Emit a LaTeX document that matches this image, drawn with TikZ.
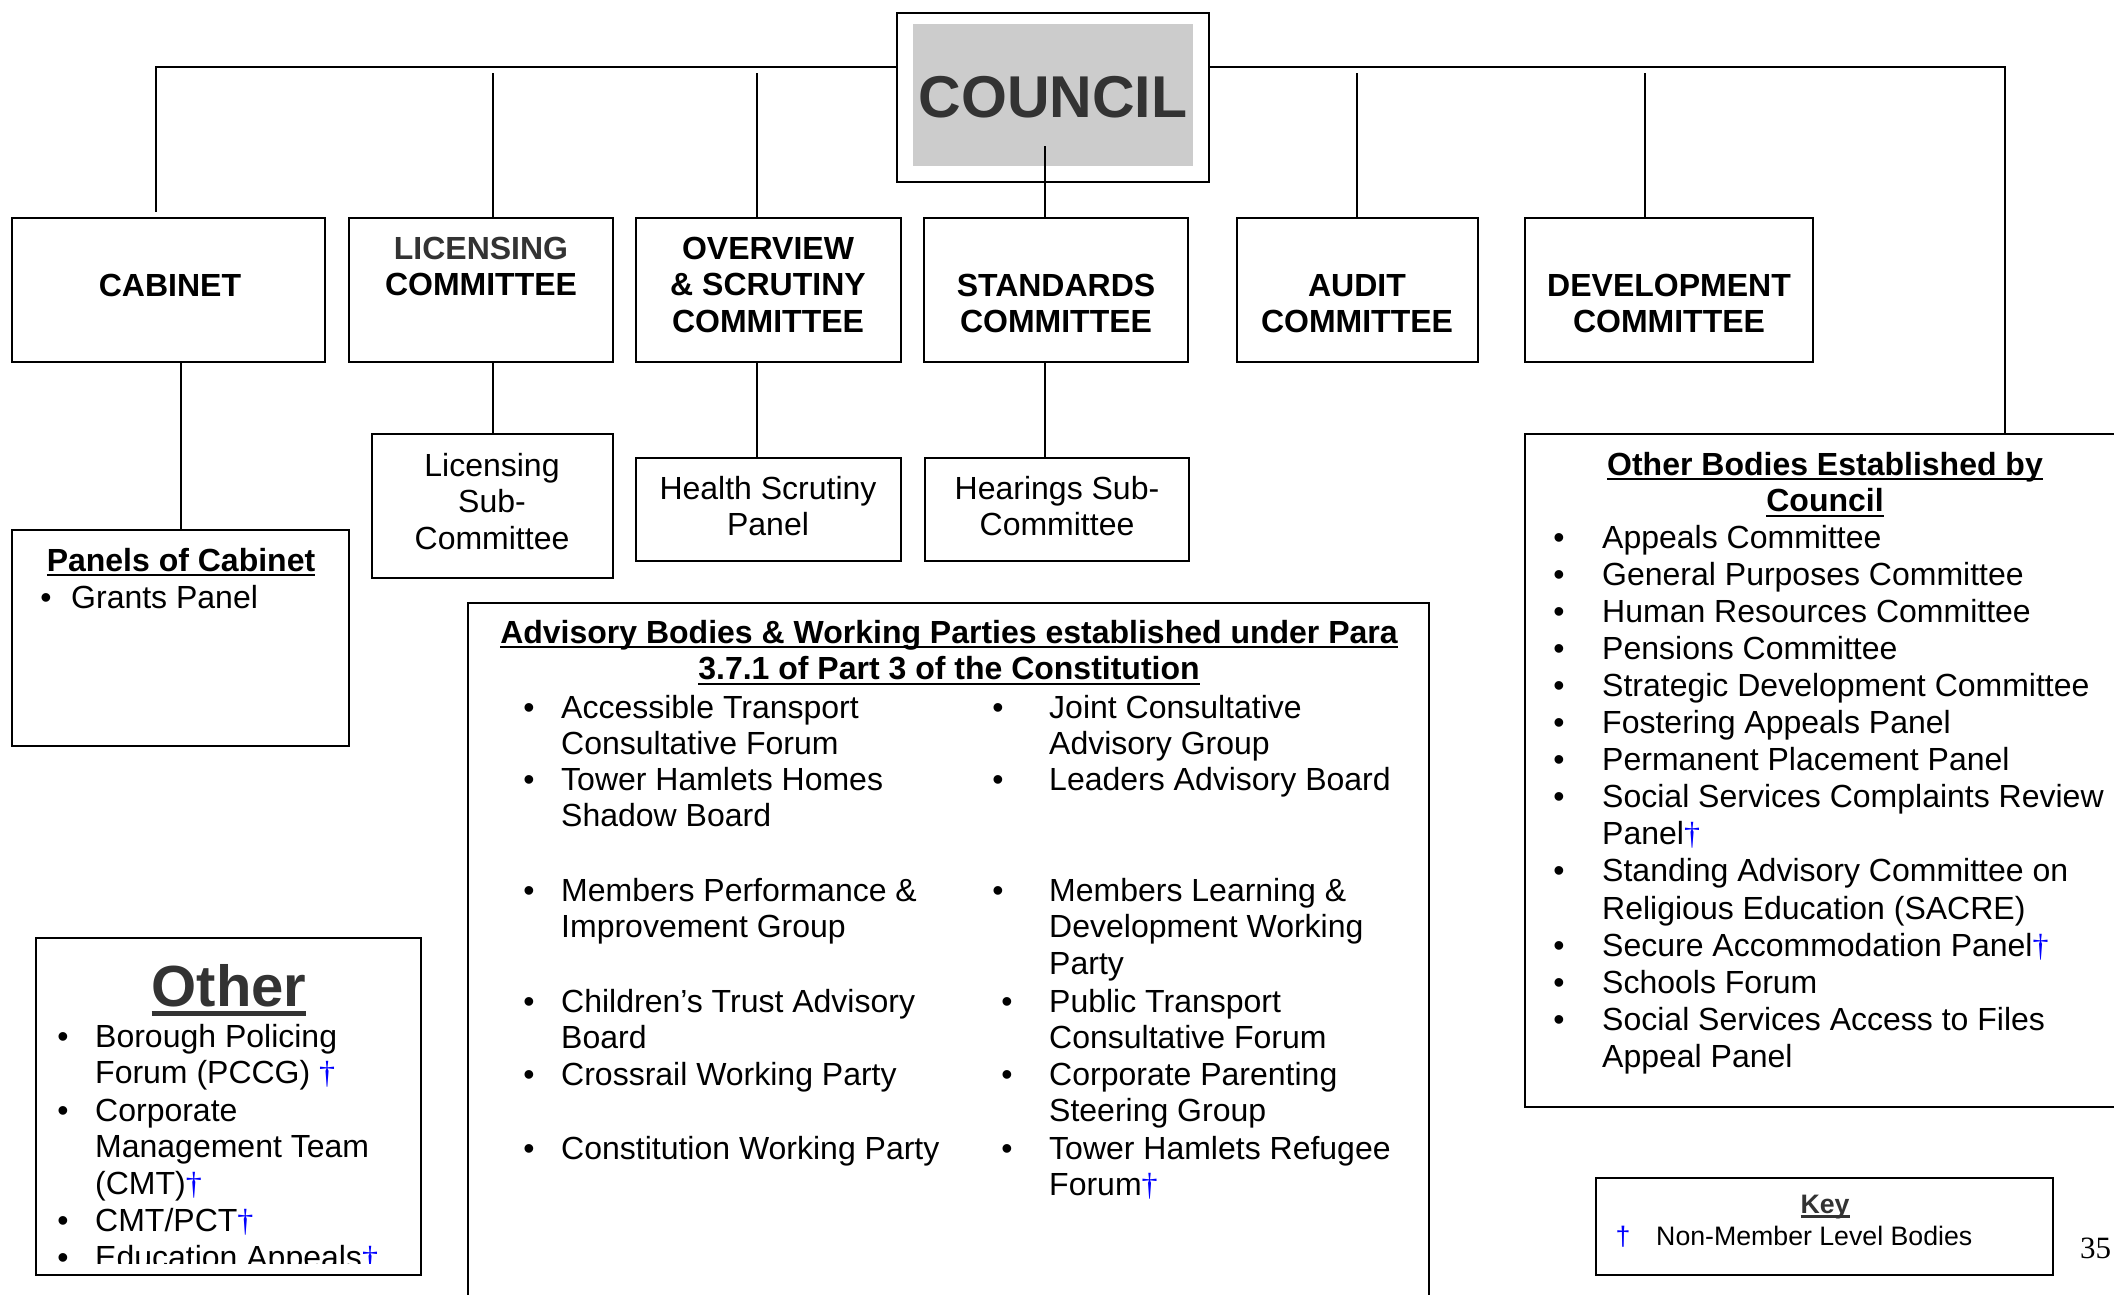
\documentclass[tikz,border=0pt]{standalone}
\usepackage{fontspec}
\setmainfont{Liberation Sans}
\newfontfamily\seriffam{Liberation Serif}
\newsavebox\ulbox
\newcommand\myul[1]{\sbox\ulbox{#1}\rlap{\rule[-0.17em]{\wd\ulbox}{0.085em}}\usebox\ulbox}
\newcommand\ml[2][l]{\begin{tabular}[t]{@{}#1@{}}#2\end{tabular}}
\newcommand\dg{\textcolor{blue}{\seriffam †}}
\definecolor{dkgray}{HTML}{333333}
\definecolor{councilgray}{HTML}{CCCCCC}
\newcommand\mkbox[6][]{%
  \pgfmathsetmacro\bw{#5-#3}\pgfmathsetmacro\bh{#6-#4}%
  \node[box,#1,minimum width=\bw pt,minimum height=\bh pt] (#2) at ({(#3+#5)/2},{(#4+#6)/2}) {};}
\begin{document}
\begin{tikzpicture}[x=1pt,y=-1pt,
  box/.style={draw=black,line width=2pt,inner sep=0pt,fill=white},
  conn/.style={line width=1.4pt},
  hconn/.style={line width=1.9pt},
  t/.style={inner sep=0pt,font=\fontsize{32}{36.8}\selectfont},
  tb/.style={inner sep=0pt,font=\fontsize{32}{36.8}\selectfont\bfseries},
  lt/.style={t,anchor=base west},
  ct/.style={t,anchor=base},
  bul/.style={t,anchor=base},
  big/.style={inner sep=0pt,anchor=base,font=\fontsize{58}{66}\selectfont\bfseries,text=dkgray},
  small/.style={inner sep=0pt,font=\fontsize{26.7}{30.7}\selectfont},
]
\useasboundingbox (0,0) rectangle (2114,1294);
\clip (0,0) rectangle (2114,1294);

% ---------- boxes ----------
\mkbox{council}{897}{13}{1209}{182}
\mkbox[draw=none,fill=councilgray]{councilin}{913}{24}{1193}{166}
\mkbox{cabinet}{12}{218}{325}{362}
\mkbox{licensing}{349}{218}{613}{362}
\mkbox{overview}{636}{218}{901}{362}
\mkbox{standards}{924}{218}{1188}{362}
\mkbox{audit}{1237}{218}{1478}{362}
\mkbox{development}{1525}{218}{1813}{362}
\mkbox{panels}{12}{530}{349}{746}
\mkbox{licsub}{372}{434}{613}{578}
\mkbox{health}{636}{458}{901}{561}
\mkbox{hearings}{925}{458}{1189}{561}
\mkbox{advisory}{468}{603}{1429}{1330}
\mkbox{otherbodies}{1525}{434}{2140}{1107}
\mkbox{other}{36}{938}{421}{1275}
\mkbox{key}{1596}{1178}{2053}{1275}

% ---------- connectors ----------
\coordinate (hlL) at (156,67);
\coordinate (hlR) at (2005,67);
\coordinate (cabend) at (156,212);
\draw[hconn] (council.west |- hlL) -- (hlL) -- (cabend);
\draw[hconn] (council.east |- hlR) -- (hlR) -- (hlR |- otherbodies.north);
\coordinate (licT) at (493,73);
\coordinate (ovT) at (757,73);
\coordinate (stT) at (1045,146);
\coordinate (auT) at (1357,73);
\coordinate (deT) at (1645,73);
\draw[conn] (licT) -- (licT |- licensing.north);
\draw[conn] (ovT) -- (ovT |- overview.north);
\draw[conn] (stT) -- (stT |- standards.north);
\draw[conn] (auT) -- (auT |- audit.north);
\draw[conn] (deT) -- (deT |- development.north);
\coordinate (cabx) at (181,0);
\coordinate (licx) at (493,0);
\coordinate (ovx) at (757,0);
\coordinate (stx) at (1045,0);
\draw[conn] (cabinet.south -| cabx) -- (panels.north -| cabx);
\draw[conn] (licensing.south -| licx) -- (licsub.north -| licx);
\draw[conn] (overview.south -| ovx) -- (health.north -| ovx);
\draw[conn] (standards.south -| stx) -- (hearings.north -| stx);

% ---------- texts ----------
\node[big,font=\fontsize{59}{66}\selectfont\bfseries] (council-t) at (1053,117) {COUNCIL};
\node[tb,anchor=base] (cabinet-t) at (170,296) {CABINET};
\node[tb,anchor=base] (licensing-t) at (481,259) {\ml[c]{\textcolor{dkgray}{LICENSING}\\COMMITTEE}};
\node[tb,anchor=base] (overview-t) at (768,259) {\ml[c]{OVERVIEW\\\& SCRUTINY\\COMMITTEE}};
\node[tb,anchor=base] (standards-t) at (1056,296) {\ml[c]{STANDARDS\\COMMITTEE}};
\node[tb,anchor=base] (audit-t) at (1357,296) {\ml[c]{AUDIT\\COMMITTEE}};
\node[tb,anchor=base] (development-t) at (1669,296) {\ml[c]{DEVELOPMENT\\COMMITTEE}};

\node[ct] (licsub-t) at (492,476) {\ml[c]{Licensing\\Sub-\\Committee}};
\node[ct] (health-t) at (768,499) {\ml[c]{Health Scrutiny\\Panel}};
\node[ct] (hearings-t) at (1057,499) {\ml[c]{Hearings Sub-\\Committee}};

\node[tb,anchor=base] (panels-h) at (181,571) {\myul{Panels of Cabinet}};
\node[bul] (panels-b1) at (46,608) {•};
\node[lt] (panels-i1) at (71,608) {Grants Panel};

\node[tb,anchor=base] (adv-h) at (949,643) {\ml[c]{\myul{Advisory Bodies \& Working Parties established under Para}\\\myul{3.7.1 of Part 3 of the Constitution}}};
\foreach \yy/\txt [count=\i] in {
  718/{Accessible Transport\\Consultative Forum},
  790/{Tower Hamlets Homes\\Shadow Board},
  901/{Members Performance \&\\Improvement Group},
  1012/{Children’s Trust Advisory\\Board},
  1085/{Crossrail Working Party},
  1159/{Constitution Working Party}}{
  \node[bul] (advL-b\i) at (529,\yy) {•};
  \node[lt] (advL-\i) at (561,\yy) {\ml{\txt}};
}
\foreach \bx/\yy/\txt [count=\i] in {
  998/718/{Joint Consultative\\Advisory Group},
  998/790/{Leaders Advisory Board},
  998/901/{Members Learning \&\\Development Working\\Party},
  1007/1012/{Public Transport\\Consultative Forum},
  1007/1085/{Corporate Parenting\\Steering Group},
  1007/1159/{Tower Hamlets Refugee\\Forum\dg}}{
  \node[bul] (advR-b\i) at (\bx,\yy) {•};
  \node[lt] (advR-\i) at (1049,\yy) {\ml{\txt}};
}

\node[tb,anchor=base] (ob-h) at (1825,475) {\ml[c]{\myul{Other Bodies Established by}\\\myul{Council}}};
\foreach \yy/\txt [count=\i] in {
  548/{Appeals Committee},
  585.1/{General Purposes Committee},
  622.2/{Human Resources Committee},
  659.3/{Pensions Committee},
  696.4/{Strategic Development Committee},
  733.5/{Fostering Appeals Panel},
  770.6/{Permanent Placement Panel},
  807.7/{Social Services Complaints Review\\Panel\dg},
  881.9/{Standing Advisory Committee on\\Religious Education (SACRE)},
  956.1/{Secure Accommodation Panel\dg},
  993.2/{Schools Forum},
  1030.3/{Social Services Access to Files\\Appeal Panel}}{
  \node[bul] (ob-b\i) at (1559,\yy) {•};
  \node[lt,font=\fontsize{32}{37.1}\selectfont] (ob-\i) at (1602,\yy) {\ml{\txt}};
}

\begin{scope}
  \clip (37,939) rectangle (420,1263);
  \node[big] (other-h) at (229,1006) {\myul{Other}};
  \foreach \yy/\txt [count=\i] in {
    1047/{Borough Policing\\Forum (PCCG) \dg},
    1121/{Corporate\\Management Team\\(CMT)\dg},
    1231/{CMT/PCT\dg},
    1268/{Education Appeals\dg}}{
    \node[bul] (oth-b\i) at (63,\yy) {•};
    \node[lt] (oth-\i) at (95,\yy) {\ml{\txt}};
  }
\end{scope}

\node[small,anchor=base,font=\fontsize{26.7}{30.7}\selectfont\bfseries,text=dkgray] (key-h) at (1825,1213) {\myul{Key}};
\node[small,anchor=base,text=blue] (key-d) at (1623,1245) {†};
\node[small,anchor=base west] (key-t) at (1656,1245) {Non-Member Level Bodies};

\node[anchor=base west,inner sep=0pt,font=\seriffam\fontsize{31}{36}\selectfont] (pagenum) at (2080,1258) {35};
\end{tikzpicture}
\end{document}
